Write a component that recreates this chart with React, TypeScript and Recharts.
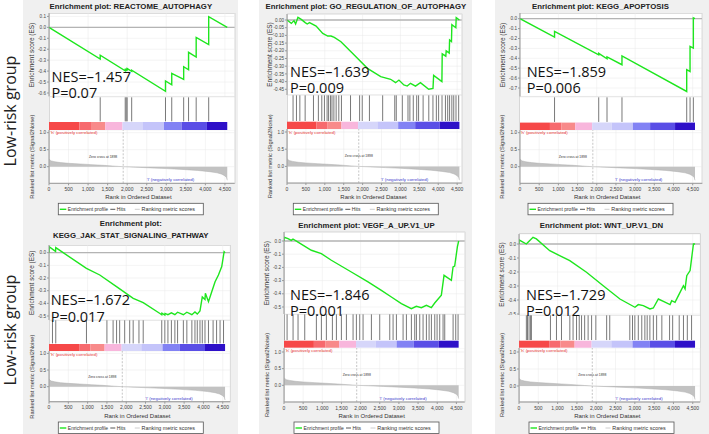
import React from "react";
import {
  LineChart,
  Line,
  AreaChart,
  Area,
  ComposedChart,
  XAxis,
  YAxis,
  CartesianGrid,
  ReferenceLine,
  ReferenceArea,
} from "recharts";

const FONT = "'Liberation Sans', Arial, sans-serif";
const BIG_FONT = "'Open Sans', 'Noto Sans', sans-serif";
const AW = 22; // width of the y axes
const XH = 12; // height of the rank axis
const PAD = 10; // room right of the rank axis for its last label

// shared ranked list (same dataset in all six plots)
const rankTicks = [0, 500, 1000, 1500, 2000, 2500, 3000, 3500, 4000, 4500];
const metricTicks = [0, 0.5, 1];
const zeroCross = 1898;
const metricRanks = [0, 20, 60, 150, 300, 500, 800, 1100, 1400, 1700, 1898, 2200, 2600, 3000, 3400, 3800, 4100, 4300, 4420, 4500, 4540, 4560];
const metricValues = [0.23, 0.2, 0.17, 0.145, 0.12, 0.1, 0.08, 0.06, 0.04, 0.015, 0, -0.015, -0.035, -0.055, -0.08, -0.11, -0.145, -0.18, -0.22, -0.27, -0.32, -0.4];
const barEdges = [0, 780, 1075, 1440, 1880, 2390, 2940, 3390, 4040, 4560];
const barColors = ["#f64848", "#f76a6e", "#f88a8a", "#f8b6dc", "#d6d6fa", "#c4c4fa", "#8282f4", "#5a4ee6", "#2e10c8"];

// REACTOME_AUTOPHAGY
const reactomeTicks = [0.1, 0, -0.1, -0.2, -0.3, -0.4, -0.5, -0.6];
const reactomeRanks = [0, 1310, 1310, 1950, 1950, 1975, 1975, 2000, 2000, 2115, 2115, 2980, 2980, 3140, 3140, 3445, 3445, 3570, 3570, 3765, 3765, 4085, 4085, 4560];
const reactomeES = [0, -0.29, -0.255, -0.397, -0.387, -0.392, -0.382, -0.387, -0.377, -0.402, -0.392, -0.585, -0.49, -0.525, -0.42, -0.475, -0.36, -0.388, -0.228, -0.272, -0.092, -0.158, 0.098, 0];
const reactomeHits = [1310, 1950, 1975, 2000, 2115, 2980, 3140, 3445, 3570, 3765, 4085];

// GO_REGULATION_OF_AUTOPHAGY
const goTicks = [0, -0.05, -0.1, -0.15, -0.2, -0.25, -0.3, -0.35, -0.4, -0.45];
const goRanks = [0, 115, 185, 228, 290, 377, 482, 535, 595, 770, 945, 1077, 1165, 1252, 1427, 1778, 2128, 2478, 2741, 2872, 2960, 3091, 3179, 3267, 3398, 3529, 3748, 3861, 3878, 4097, 4105, 4200, 4210, 4290, 4300, 4350, 4360, 4465, 4475, 4560];
const goES = [0, -0.022, -0.004, -0.026, 0.017, 0.004, -0.017, -0.026, -0.017, -0.039, -0.087, -0.104, -0.104, -0.113, -0.141, -0.227, -0.314, -0.368, -0.385, -0.407, -0.39, -0.422, -0.429, -0.411, -0.429, -0.407, -0.45, -0.445, -0.36, -0.4, -0.22, -0.235, -0.2, -0.215, -0.13, -0.14, -0.03, -0.05, 0.015, 0];
const goHits = [160, 250, 340, 480, 700, 830, 920, 990, 1060, 1100, 1150, 1190, 1240, 1300, 1370, 1440, 1680, 1920, 1990, 2180, 2530, 2850, 2890, 3050, 3200, 3250, 3340, 3430, 3480, 3600, 3750, 3860, 3950, 4010, 4100, 4190, 4250, 4300, 4360, 4410, 4470, 4540];

// KEGG_APOPTOSIS
const apoTicks = [0, -0.1, -0.2, -0.3, -0.4, -0.5, -0.6, -0.7];
const apoRanks = [0, 900, 900, 2051, 2051, 2267, 2267, 2657, 2657, 4344, 4344, 4431, 4431, 4517, 4517, 4560];
const apoES = [0, -0.185, -0.128, -0.365, -0.35, -0.405, -0.385, -0.465, -0.375, -0.735, -0.515, -0.533, -0.28, -0.298, 0.008, 0];
const apoHits = [900, 2051, 2267, 2657, 4344, 4431, 4517];

// KEGG_JAK_STAT_SIGNALING_PATHWAY
const jakTicks = [0, -0.1, -0.2, -0.3, -0.4, -0.5];
const jakRanks = [0, 10, 170, 175, 969, 1315, 1748, 2181, 2440, 2873, 2920, 2925, 3000, 3005, 3080, 3170, 3260, 3330, 3480, 3570, 3700, 3780, 3840, 3910, 3970, 4040, 4050, 4130, 4215, 4301, 4388, 4474, 4535, 4560];
const jakES = [0, 0.045, 0.01, 0.04, -0.124, -0.176, -0.268, -0.36, -0.395, -0.48, -0.49, -0.478, -0.492, -0.48, -0.49, -0.475, -0.49, -0.47, -0.49, -0.47, -0.49, -0.468, -0.485, -0.46, -0.35, -0.37, -0.32, -0.387, -0.308, -0.229, -0.176, -0.11, 0.008, 0];
const jakHits = [90, 175, 970, 1500, 1660, 1750, 1830, 1960, 2090, 2180, 2330, 2440, 2920, 3000, 3080, 3170, 3260, 3330, 3480, 3570, 3700, 3780, 3840, 3910, 3970, 4040, 4130, 4250, 4340, 4430, 4520];

// VEGF_A_UP.V1_UP
const vegfTicks = [0, -0.1, -0.2, -0.3, -0.4, -0.5];
const vegfRanks = [0, 5, 104, 191, 235, 366, 714, 975, 1236, 1758, 2193, 2542, 2803, 3064, 3325, 3455, 3586, 3717, 3847, 3934, 4108, 4178, 4369, 4413, 4456, 4526, 4560];
const vegfES = [0, 0.028, 0.018, 0.005, 0.015, -0.008, -0.07, -0.096, -0.146, -0.235, -0.31, -0.374, -0.424, -0.475, -0.513, -0.495, -0.505, -0.487, -0.505, -0.47, -0.41, -0.26, -0.298, -0.197, -0.19, -0.045, 0];
const vegfHits = [0, 80, 236, 366, 541, 845, 976, 1106, 1263, 1368, 1498, 1629, 1803, 1890, 1977, 2064, 2282, 2499, 2761, 2848, 2935, 3109, 3196, 3326, 3413, 3457, 3544, 3631, 3718, 3788, 3849, 3936, 3997, 4066, 4153, 4197, 4415, 4484, 4545];

// WNT_UP.V1_DN
const wntTicks = [0, -0.1, -0.2, -0.3, -0.4, -0.5];
const wntRanks = [0, 5, 190, 234, 363, 450, 796, 1315, 1748, 2181, 2614, 3003, 3089, 3219, 3392, 3479, 3609, 3739, 3912, 3955, 4041, 4128, 4258, 4301, 4345, 4431, 4474, 4518, 4560];
const wntES = [0, 0.029, 0, 0.012, 0.048, 0.036, -0.048, -0.119, -0.202, -0.298, -0.393, -0.452, -0.433, -0.44, -0.464, -0.457, -0.393, -0.41, -0.433, -0.405, -0.417, -0.369, -0.298, -0.321, -0.226, -0.19, -0.095, 0, 0];
const wntHits = [190, 220, 260, 300, 320, 814, 970, 1100, 1316, 1400, 1490, 1560, 1620, 1700, 1790, 1880, 1990, 2270, 2350, 2870, 2940, 3000, 3090, 3180, 3260, 3320, 3390, 3480, 3565, 3700, 3900, 3980, 4150, 4260, 4360, 4470];

const panels = [
  { title: ["Enrichment plot: REACTOME_AUTOPHAGY"], ticks: reactomeTicks, dec: 1, ranks: reactomeRanks, es: reactomeES, hits: reactomeHits, nes: "NES=–1.457", p: "P=0.07" },
  { title: ["Enrichment plot: GO_REGULATION_OF_AUTOPHAGY"], ticks: goTicks, dec: 2, ranks: goRanks, es: goES, hits: goHits, nes: "NES=–1.639", p: "P=0.009" },
  { title: ["Enrichment plot: KEGG_APOPTOSIS"], ticks: apoTicks, dec: 1, ranks: apoRanks, es: apoES, hits: apoHits, nes: "NES=–1.859", p: "P=0.006" },
  { title: ["Enrichment plot:", "KEGG_JAK_STAT_SIGNALING_PATHWAY"], ticks: jakTicks, dec: 1, ranks: jakRanks, es: jakES, hits: jakHits, nes: "NES=–1.672", p: "P=0.017" },
  { title: ["Enrichment plot: VEGF_A_UP.V1_UP"], ticks: vegfTicks, dec: 1, ranks: vegfRanks, es: vegfES, hits: vegfHits, nes: "NES=–1.846", p: "P=0.001" },
  { title: ["Enrichment plot: WNT_UP.V1_DN"], ticks: wntTicks, dec: 1, ranks: wntRanks, es: wntES, hits: wntHits, nes: "NES=–1.729", p: "P=0.012" },
];

// pixel layout of each panel
const layouts = [
  { bg: [23, 0, 215, 217], x0: 49.3, right: 235, rankMax: 4750, esTop: 13.3, esBottom: 96.7, tTop: 16.7, tBot: 93.3, hitsBottom: 121.7, barBottom: 130, m1: 132.7, m0: 166.7, mBottom: 183.3, titleY: [8.8], cx: 130.8, nesX: 51.5, nesY: 82, pY: 97.5, zero: "left" },
  { bg: [259, 0, 213, 217], x0: 287.3, right: 462, rankMax: 4620, esTop: 14, esBottom: 95, tTop: 20, tBot: 89.3, hitsBottom: 121.7, barBottom: 129.3, m1: 132.3, m0: 166.7, mBottom: 183.3, titleY: [8.8], cx: 365.8, nesX: 290, nesY: 76.5, pY: 92.7, zero: "center" },
  { bg: [495, 0, 214, 217], x0: 519.7, right: 702, rankMax: 4750, esTop: 13.3, esBottom: 96.7, tTop: 19, tBot: 88.3, hitsBottom: 122.3, barBottom: 130, m1: 132.7, m0: 166.7, mBottom: 183.3, titleY: [8.8], cx: 600.5, nesX: 526.7, nesY: 77.3, pY: 92.7, zero: "left" },
  { bg: [23, 217, 215, 217], x0: 49.3, right: 230.4, rankMax: 4690, esTop: 245.3, esBottom: 320.3, tTop: 253, tBot: 316.3, hitsBottom: 344.3, barBottom: 351.3, m1: 353.7, m0: 387, mBottom: 402, titleY: [225.8, 238], cx: 130.8, nesX: 50.7, nesY: 305.3, pY: 322, zero: "left" },
  { bg: [259, 217, 213, 217], x0: 284.3, right: 465, rankMax: 4717, esTop: 232, esBottom: 314.3, tTop: 241, tBot: 307, hitsBottom: 341, barBottom: 348, m1: 352, m0: 385.3, mBottom: 402, titleY: [228], cx: 366.5, nesX: 290, nesY: 299.7, pY: 315.7, zero: "center" },
  { bg: [495, 217, 214, 217], x0: 519.3, right: 700.4, rankMax: 4690, esTop: 233.7, esBottom: 315.3, tTop: 243.7, tBot: 313.7, hitsBottom: 341, barBottom: 348, m1: 352, m0: 386, mBottom: 402, titleY: [228], cx: 601.5, nesX: 526, nesY: 300.3, pY: 316.3, zero: "center" },
];

const abs = (left: number, top: number): React.CSSProperties => ({ position: "absolute", left, top });
const tickStyle = { fontSize: 4.6, fill: "#444", fontFamily: FONT };
const metricData = metricRanks.map((rank, i) => ({ rank, m: metricValues[i] }));

function Panel({ panel, lay }: { panel: any; lay: any }) {
  const plotW = lay.right - lay.x0;
  const t1 = panel.ticks[0];
  const t2 = panel.ticks[panel.ticks.length - 1];
  const esPx = (lay.tBot - lay.tTop) / (t1 - t2);
  const esDomain = [t2 - (lay.esBottom - lay.tBot) / esPx, t1 + (lay.tTop - lay.esTop) / esPx];
  const mPx = lay.m0 - lay.m1;
  const mDomain = [-(lay.mBottom - lay.m0) / mPx, 1 + (lay.m1 - lay.barBottom) / mPx];
  const barFrac = (lay.barBottom - lay.hitsBottom) / (lay.barBottom - lay.esBottom);
  const esData = panel.ranks.map((rank: number, i: number) => ({ rank, es: panel.es[i] }));
  const hitData = panel.hits.map((rank: number) => ({ rank }));
  const xDomain = [0, lay.rankMax];
  const rx = (r: number) => lay.x0 + (plotW * r) / lay.rankMax;
  const legX = lay.cx - 72.5;
  const legY = lay.mBottom + 20;
  const [bx, by, bw, bh] = lay.bg;

  return (
    <>
      <svg width={709} height={434} style={abs(0, 0)}>
        <rect x={bx} y={by} width={bw} height={bh} fill="#f0f0f0" />
        <rect x={lay.x0} y={lay.esTop} width={plotW} height={lay.mBottom - lay.esTop} fill="#fff" stroke="#c4c4c4" strokeWidth={0.6} />
        <line x1={lay.x0} x2={lay.right} y1={lay.esBottom} y2={lay.esBottom} stroke="#d0d0d0" strokeWidth={0.6} />
      </svg>

      <div style={abs(lay.x0 - AW, lay.esTop)}>
        <LineChart width={AW + plotW} height={lay.esBottom - lay.esTop} data={esData} margin={{ top: 0, right: 0, bottom: 0, left: 0 }}>
          <CartesianGrid stroke="#e8e8e8" strokeWidth={0.5} />
          <XAxis type="number" dataKey="rank" domain={xDomain} ticks={rankTicks} hide allowDataOverflow />
          <YAxis type="number" domain={esDomain} ticks={panel.ticks} interval={0} allowDataOverflow width={AW} tick={tickStyle} tickSize={2} tickMargin={1} stroke="#999" tickFormatter={(v: number) => v.toFixed(panel.dec)} />
          <ReferenceLine y={0} stroke="#b4b4b4" strokeWidth={1.3} />
          <Line type="linear" dataKey="es" stroke="#1ee61e" strokeWidth={1.4} dot={false} isAnimationActive={false} />
        </LineChart>
      </div>

      <div style={abs(lay.x0, lay.esBottom)}>
        <ComposedChart width={plotW} height={lay.barBottom - lay.esBottom} data={hitData} margin={{ top: 0, right: 0, bottom: 0, left: 0 }}>
          <XAxis type="number" dataKey="rank" domain={xDomain} hide allowDataOverflow />
          <YAxis type="number" domain={[0, 1]} hide allowDataOverflow />
          {barColors.map((c, i) => (
            <ReferenceArea key={i} x1={barEdges[i]} x2={barEdges[i + 1]} y1={0} y2={barFrac} fill={c} fillOpacity={1} stroke="none" ifOverflow="visible" />
          ))}
          {panel.hits.map((h: number, i: number) => (
            <ReferenceLine key={"h" + i} segment={[{ x: h, y: barFrac + 0.02 }, { x: h, y: 0.99 }]} stroke="#6a6a6a" strokeWidth={0.9} ifOverflow="visible" />
          ))}
        </ComposedChart>
      </div>

      <div style={abs(lay.x0 - AW, lay.barBottom)}>
        <AreaChart width={AW + plotW + PAD} height={lay.mBottom - lay.barBottom + XH} data={metricData} margin={{ top: 0, right: PAD, bottom: 0, left: 0 }}>
          <CartesianGrid stroke="#e8e8e8" strokeWidth={0.5} />
          <XAxis type="number" dataKey="rank" domain={xDomain} ticks={rankTicks} interval={0} allowDataOverflow height={XH} tick={{ ...tickStyle, fontSize: 5 }} tickSize={2} tickMargin={2} stroke="#999" tickFormatter={(v: number) => v.toLocaleString("en-US")} />
          <YAxis type="number" domain={mDomain} ticks={metricTicks} interval={0} allowDataOverflow width={AW} tick={tickStyle} tickSize={2} tickMargin={1} stroke="#999" tickFormatter={(v: number) => v.toFixed(1)} />
          <ReferenceLine x={zeroCross} stroke="#a0a0a0" strokeWidth={0.6} strokeDasharray="2 1.5" label={{ value: "Zero cross at 1898", position: lay.zero, offset: 6, fontSize: 3.4, fill: "#333", fontFamily: FONT }} />
          <Area type="linear" dataKey="m" baseValue={0} fill="#c2c2c2" fillOpacity={1} stroke="#b0b0b0" strokeWidth={0.5} isAnimationActive={false} />
        </AreaChart>
      </div>

      <svg width={709} height={434} style={abs(0, 0)} fontFamily={FONT}>
        {panel.title.map((t: string, i: number) => (
          <text key={i} x={lay.cx} y={lay.titleY[i]} textAnchor="middle" fontSize={7.8} fontWeight="bold" fill="#222">{t}</text>
        ))}
        <text transform={`translate(${lay.x0 - 17.6},${(lay.esTop + lay.esBottom) / 2}) rotate(-90)`} textAnchor="middle" dominantBaseline="central" fontSize={6.4} fill="#333">Enrichment score (ES)</text>
        <text transform={`translate(${lay.x0 - 17.6},${(lay.barBottom + lay.mBottom) / 2}) rotate(-90)`} textAnchor="middle" dominantBaseline="central" fontSize={5.7} fill="#333">Ranked list metric (Signal2Noise)</text>
        <text x={lay.x0 + 1} y={lay.barBottom + 4.3} fontSize={4.4} fill="#e53030">'h' (positively correlated)</text>
        <text x={rx(3100)} y={lay.mBottom - 2} textAnchor="middle" fontSize={4.4} fill="#3a3acc">'l' (negatively correlated)</text>
        <text x={rx(2280)} y={lay.mBottom + 15.6} textAnchor="middle" fontSize={6} fill="#333">Rank in Ordered Dataset</text>
        <rect x={legX} y={legY} width={145} height={11.5} fill="#fff" stroke="#555" strokeWidth={0.8} />
        <line x1={legX + 1.5} x2={legX + 8} y1={legY + 6} y2={legY + 6} stroke="#1ee61e" strokeWidth={1.4} />
        <text x={legX + 9.5} y={legY + 7.7} fontSize={5} fill="#333">Enrichment profile</text>
        <line x1={legX + 52} x2={legX + 57} y1={legY + 6} y2={legY + 6} stroke="#444" strokeWidth={0.9} />
        <text x={legX + 58.5} y={legY + 7.7} fontSize={5} fill="#333">Hits</text>
        <line x1={legX + 76.5} x2={legX + 81.5} y1={legY + 6} y2={legY + 6} stroke="#c8c8c8" strokeWidth={0.9} />
        <text x={legX + 83.3} y={legY + 7.7} fontSize={5.4} fill="#333">Ranking metric scores</text>
        <text x={lay.nesX} y={lay.nesY} fontFamily={BIG_FONT} fontSize={14.5} fill="#111">{panel.nes}</text>
        <text x={lay.nesX} y={lay.pY} fontFamily={BIG_FONT} fontSize={14.5} fill="#111">{panel.p}</text>
      </svg>
    </>
  );
}

export default function App() {
  return (
    <div style={{ position: "absolute", left: 0, top: 0, width: 709, height: 434, background: "#fff", overflow: "hidden" }}>
      {panels.map((p, i) => (
        <Panel key={i} panel={p} lay={layouts[i]} />
      ))}
      <svg width={709} height={434} style={abs(0, 0)} fontFamily={BIG_FONT}>
        {[111, 330].map((cy, i) => (
          <text key={i} transform={`translate(10,${cy}) rotate(-90)`} textAnchor="middle" dominantBaseline="central" fontSize={16} fill="#222">Low-risk group</text>
        ))}
      </svg>
    </div>
  );
}
